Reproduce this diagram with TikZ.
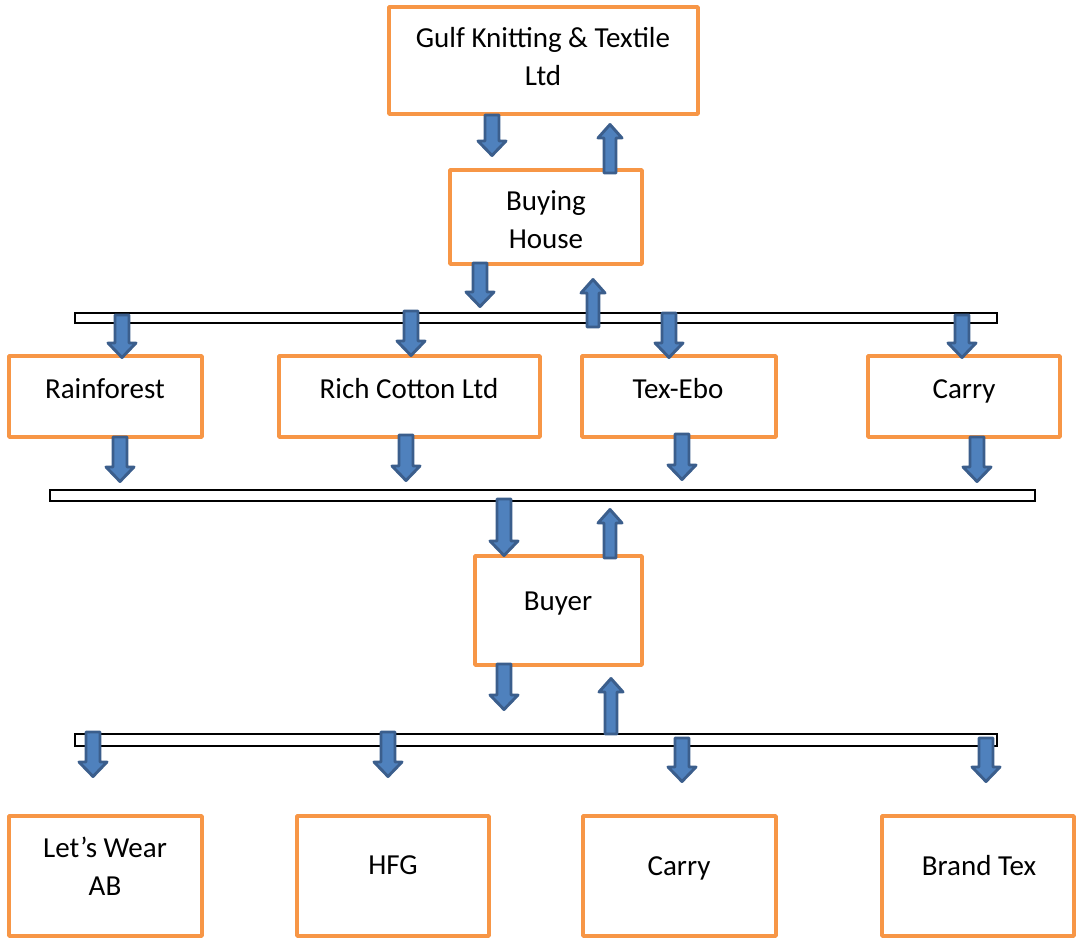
\documentclass[tikz,border=0pt]{standalone}
\usepackage{fontspec}
\setmainfont{Carlito}
\usetikzlibrary{fit}
\definecolor{orng}{HTML}{F79646}
\definecolor{afill}{HTML}{4F81BD}
\definecolor{aline}{HTML}{3B5E8C}
\tikzset{
  box/.style={draw=orng, line width=2.6pt, fill=white, inner sep=0pt, line join=round},
  txt/.style={align=center, font=\fontsize{21.75pt}{28.5pt}\selectfont, inner sep=0pt},
  txtb/.style={txt, anchor=base},
  bar/.style={draw=black, line width=1.1pt, fill=white},
  barr/.style={draw=aline, fill=afill, line width=2.2pt, line join=round}
}
\newcommand\dnarr[3]{\draw[barr] ({#1-7},#2) -- ({#1+7},#2) -- ({#1+7},{#3-16}) -- ({#1+14},{#3-16}) -- (#1,{#3-1.5}) -- ({#1-14},{#3-16}) -- ({#1-7},{#3-16}) -- cycle;}
\newcommand\uparr[3]{\draw[barr] ({#1-6},#3) -- ({#1+6},#3) -- ({#1+6},{#2+15}) -- ({#1+12},{#2+15}) -- (#1,{#2+1.5}) -- ({#1-12},{#2+15}) -- ({#1-6},{#2+15}) -- cycle;}
\begin{document}
\begin{tikzpicture}[x=0.75pt, y=-0.75pt]
\useasboundingbox (0,0) rectangle (1078,941);
% bars
\node[bar, inner sep=0pt, fit={(75,313)(997,323)}] (bar1) {};
\node[bar, inner sep=0pt, fit={(50,490)(1035,501)}] (bar2) {};
\node[bar, inner sep=0pt, fit={(75,734)(997,746)}] (bar3) {};
% boxes
\node[box, fit={(389,7)(698,114)}] (gulf) {};
\node[box, fit={(450,170)(642,264)}] (buying) {};
\node[box, fit={(9,356)(202,437)}] (rain) {};
\node[box, fit={(279,356)(540,437)}] (rich) {};
\node[box, fit={(582,356)(776,437)}] (tex) {};
\node[box, fit={(868,356)(1060,437)}] (carry) {};
\node[box, fit={(475,556)(642,665)}] (buyer) {};
\node[box, fit={(9,816)(202,936)}] (lets) {};
\node[box, fit={(297,816)(489,936)}] (hfg) {};
\node[box, fit={(583,816)(776,936)}] (carryb) {};
\node[box, fit={(882,816)(1074,936)}] (brand) {};
% texts
\node[txt] (tgulf) at (543,57) {Gulf Knitting \& Textile\\Ltd};
\node[txt] (tbuying) at (546,220) {Buying\\House};
\node[txtb] (train) at (105,398) {Rainforest};
\node[txtb] (trich) at (409,398) {Rich Cotton Ltd};
\node[txtb] (ttex) at (678,398) {Tex-Ebo};
\node[txtb] (tcarry) at (964,398) {Carry};
\node[txtb] (tbuyer) at (558,610) {Buyer};
\node[txt] (tlets) at (105,866) {Let’s Wear\\AB};
\node[txtb] (thfg) at (393,874) {HFG};
\node[txtb] (tcarryb) at (679,875) {Carry};
\node[txtb] (tbrand) at (979,875) {Brand Tex};
% block arrows
\dnarr{492}{115}{157}
\uparr{610}{123}{173}
\dnarr{480}{263}{308}
\uparr{593}{278}{327}
\dnarr{122}{315}{359}
\dnarr{411}{311}{357}
\dnarr{669}{313}{359}
\dnarr{962}{315}{359}
\dnarr{120}{437}{483}
\dnarr{406}{435}{482}
\dnarr{682}{434}{481}
\dnarr{977}{437}{483}
\dnarr{504}{499}{557}
\uparr{610}{508}{558}
\dnarr{504}{664}{711}
\uparr{611}{677}{734}
\dnarr{93}{732}{778}
\dnarr{388}{732}{778}
\dnarr{682}{738}{783}
\dnarr{986}{738}{783}
\end{tikzpicture}
\end{document}
